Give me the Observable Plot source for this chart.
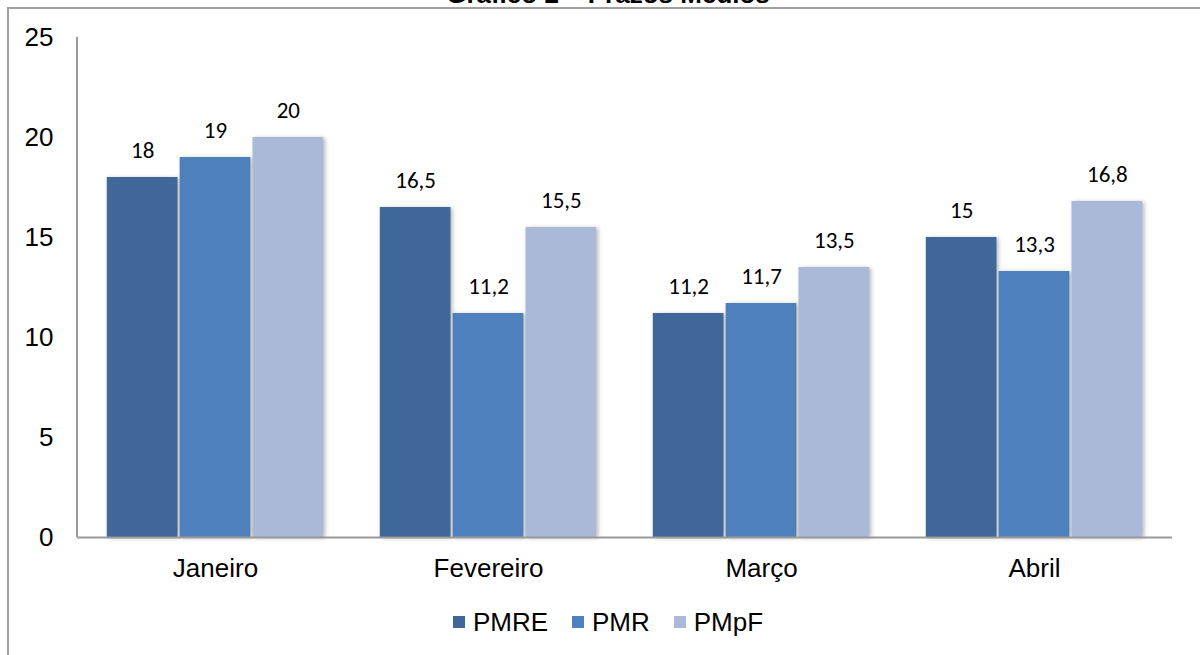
<!DOCTYPE html>
<html>
<head>
<meta charset="utf-8">
<script src="https://cdn.jsdelivr.net/npm/d3@7"></script>
<script src="https://cdn.jsdelivr.net/npm/@observablehq/plot@0.6"></script>
<style>
  html, body { margin: 0; padding: 0; background: #fff; }
  #wrap { position: relative; width: 1200px; height: 655px; overflow: hidden; background: #fff; }
  #frame { position: absolute; left: 7px; top: 7px; width: 1400px; height: 900px;
           border-top: 2px solid #a0a0a0; border-left: 2px solid #a0a0a0; }
  #title { position: absolute; left: 608px; top: -19px; transform: translateX(-50%);
           font: bold 26px/26px "Liberation Sans", Arial, sans-serif; white-space: nowrap; color: #000; }
  #chart { position: absolute; left: 0; top: 0; }
  #legend { position: absolute; left: 0; width: 1216px; top: 605px; display: flex; justify-content: center;
            font: 26px/34px "Liberation Sans", Arial, sans-serif; color: #000; }
  #legend .item { display: flex; align-items: center; margin: 0 12px; }
  #legend .sw { width: 12px; height: 12px; margin-right: 8px; }
  .bars rect { filter: drop-shadow(2px 1px 2px rgba(0,0,0,0.28)); }
</style>
</head>
<body>
<div id="wrap">
  <div id="frame"></div>
  <div id="title">Gráfico 2 – Prazos Médios</div>
  <div id="chart"></div>
  <div id="legend"></div>
</div>
<script>
// Average terms per month
const months = ["Janeiro", "Fevereiro", "Março", "Abril"];
const series = ["PMRE", "PMR", "PMpF"];
const colors = ["#3F6898", "#4E80BD", "#A9B9D7"];
const PMRE = [18, 16.5, 11.2, 15];
const PMR = [19, 11.2, 11.7, 13.3];
const PMpF = [20, 15.5, 13.5, 16.8];
const yTicks = [0, 5, 10, 15, 20, 25];

const values = {PMRE, PMR, PMpF};
const data = series.flatMap(s => months.map((m, i) => ({month: m, series: s, value: values[s][i]})));

const W = 1200, H = 590;
const mL = 77, mR = 28, mT = 37, mB = 53;
const padInner = 0.2, padOuter = 0.104;
const step = (W - mL - mR) / (months.length - padInner + 2 * padOuter);
const bw = step * (1 - padInner);
const sub = bw / series.length;

const fmt = v => String(v).replace(".", ",");
const axisFont = {fontFamily: "'Liberation Sans', Arial, sans-serif", fontSize: "26px", color: "#000"};

// left axis line drawn from the y scale
const leftAxis = (index, scales, values, dims) => {
  const line = d3.create("svg:line")
    .attr("x1", dims.marginLeft).attr("x2", dims.marginLeft)
    .attr("y1", scales.y(25)).attr("y2", scales.y(0))
    .attr("stroke", "#9a9a9a").attr("stroke-width", 2);
  return line.node();
};

const barMarks = series.map((s, i) => Plot.barY(data.filter(d => d.series === s), {
  x: "month", y: "value", fill: "series",
  insetLeft: i * sub + 0.8, insetRight: (series.length - 1 - i) * sub + 0.8,
  className: "bars"
}));

const labelMarks = series.map((s, i) => Plot.text(data.filter(d => d.series === s), {
  x: "month", y: "value", text: d => fmt(d.value),
  dx: (i - (series.length - 1) / 2) * sub, dy: -27, lineAnchor: "middle",
  fontFamily: "Carlito, Calibri, 'Open Sans', sans-serif", fontSize: 23, fill: "#000"
}));

const chart = Plot.plot({
  width: W, height: H,
  marginLeft: mL, marginRight: mR, marginTop: mT, marginBottom: mB,
  style: {...axisFont, background: "transparent"},
  x: {domain: months, paddingInner: padInner, paddingOuter: padOuter, label: null},
  y: {domain: [0, 25], label: null},
  color: {domain: series, range: colors},
  marks: [
    ...barMarks,
    ...labelMarks,
    Plot.ruleY([0], {stroke: "#9a9a9a", strokeWidth: 2}),
    leftAxis,
    Plot.axisY({ticks: yTicks, tickSize: 0, tickPadding: 24, fontSize: 26, label: null}),
    Plot.axisX({tickSize: 0, tickPadding: 21, fontSize: 26, label: null})
  ]
});
document.getElementById("chart").appendChild(chart);

// legend built from the chart's color scale
const color = chart.scale("color");
const legend = d3.select("#legend");
series.forEach((s, i) => {
  const item = legend.append("div").attr("class", "item");
  item.append("div").attr("class", "sw").style("background", color.range[i]);
  item.append("span").text(s);
});
</script>
</body>
</html>
